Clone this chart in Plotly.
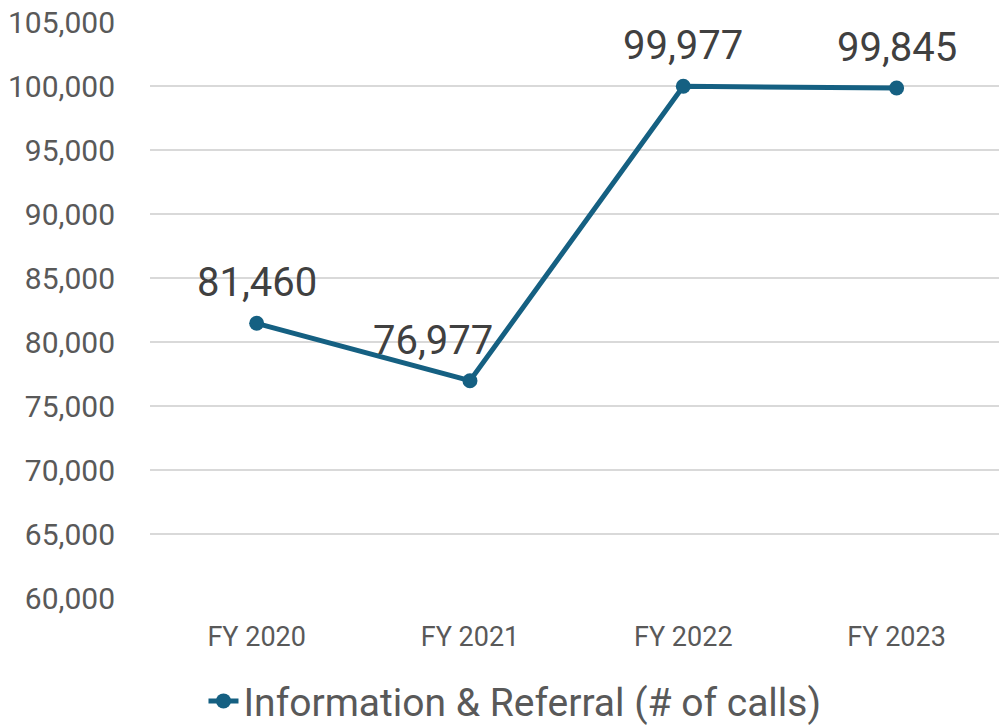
import plotly.graph_objects as go

categories = ["FY 2020", "FY 2021", "FY 2022", "FY 2023"]
calls = [81460, 76977, 99977, 99845]
label_xshift = [0, -37, 0, 0]
series_name = "Information & Referral (# of calls)"
y_ticks = list(range(60000, 105001, 5000))

color = "#156082"
font_family = "Roboto, Inter, sans-serif"

fig = go.Figure()
fig.add_trace(go.Scatter(
    x=categories, y=calls, mode="lines+markers", name=series_name,
    line=dict(color=color, width=5),
    marker=dict(color=color, size=15),
))

for c, v, dx in zip(categories, calls, label_xshift):
    fig.add_annotation(
        x=c, y=v, text=f"{v:,}", showarrow=False, yanchor="bottom",
        yshift=15, xshift=dx,
        font=dict(size=40, color="#404040", family=font_family),
    )

fig.update_layout(
    width=999, height=725,
    margin=dict(l=150, r=0, t=22, b=127),
    plot_bgcolor="white", paper_bgcolor="white",
    font=dict(family=font_family, color="#595959"),
    showlegend=True,
    legend=dict(
        orientation="h", xref="container", yref="container",
        x=0.5155, y=0.033, xanchor="center", yanchor="middle",
        font=dict(size=39, color="#595959"),
        borderwidth=0, tracegroupgap=0,
    ),
    xaxis=dict(
        range=[-0.5, 3.48],
        showgrid=False, showline=False, zeroline=False,
        tickfont=dict(size=27, color="#595959"), ticks="",
        ticklabelstandoff=20,
    ),
    yaxis=dict(
        range=[60000, 105000], tickvals=y_ticks,
        tickformat=",", showgrid=True, gridcolor="#D9D9D9", gridwidth=2,
        zeroline=False, showline=False,
        tickfont=dict(size=30, color="#595959"), ticks="",
        ticklabelstandoff=34, ticklabeloverflow="allow",
    ),
)

fig.write_html(
    "out.html",
    config={"displayModeBar": False},
    post_script="document.body.style.margin='0';document.body.style.overflow='hidden';",
)
